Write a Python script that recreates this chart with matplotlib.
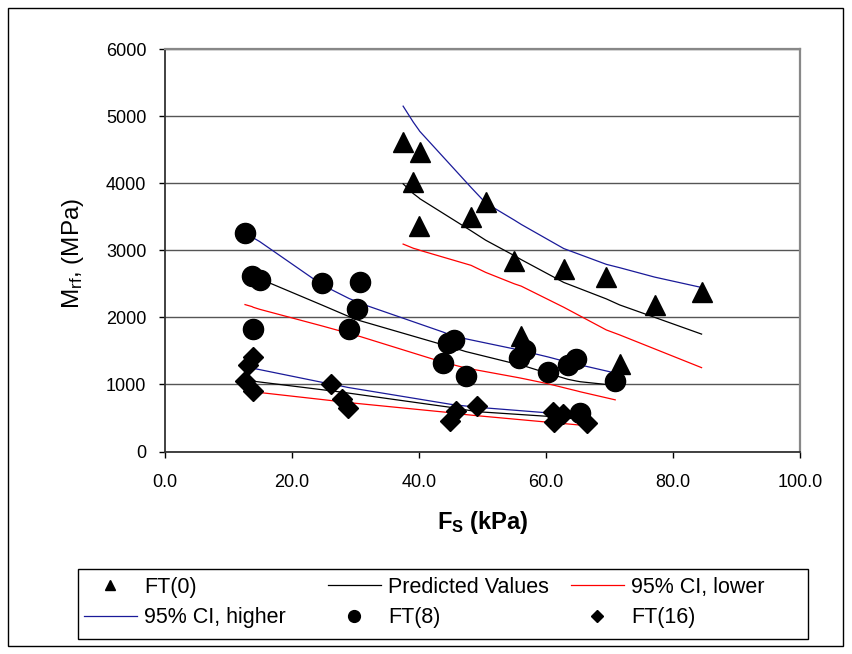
import matplotlib
matplotlib.use('Agg')
import matplotlib.pyplot as plt
from matplotlib.lines import Line2D
from matplotlib.patches import Rectangle

plt.rcParams['font.family'] = ['Liberation Sans', 'DejaVu Sans']
plt.rcParams['mathtext.default'] = 'regular'

# markers
ft0_x = [37.5, 40.1, 39.1, 40.0, 50.5, 48.2, 55.0, 62.8, 56.1, 69.5, 84.5, 77.1, 71.6]
ft0_y = [4620, 4460, 4010, 3360, 3725, 3490, 2845, 2725, 1720, 2600, 2375, 2190, 1310]

ft8_x = [12.6, 13.7, 14.9, 24.8, 30.7, 30.3, 29.0, 13.9, 44.6, 45.5, 43.8, 47.35,
         55.7, 56.75, 60.3, 63.5, 64.8, 70.9, 65.4]
ft8_y = [3250, 2615, 2550, 2505, 2525, 2120, 1830, 1830, 1615, 1665, 1315, 1125,
         1390, 1515, 1180, 1290, 1375, 1055, 575]

ft16_x = [13.9, 13.1, 12.55, 13.9, 26.1, 27.8, 28.8, 45.8, 44.9, 49.1, 61.1, 62.6, 61.2, 66.4]
ft16_y = [1405, 1290, 1045, 900, 1000, 790, 645, 605, 455, 685, 585, 560, 445, 425]

# predicted values and 95% CI, one set per group
line0_x = [37.5, 39.1, 40.0, 40.1, 48.2, 50.5, 55.0, 56.1, 62.8, 69.5, 71.6, 77.1, 84.5]
pred0 = [3990, 3845, 3780, 3770, 3290, 3150, 2920, 2860, 2520, 2275, 2185, 2000, 1750]
low0 = [3092, 3030, 3005, 3000, 2775, 2670, 2500, 2465, 2150, 1812, 1738, 1530, 1250]
high0 = [5148, 4910, 4790, 4775, 3936, 3705, 3450, 3385, 3025, 2790, 2740, 2600, 2445]

line8_x = [12.6, 13.7, 13.9, 14.9, 24.8, 29.0, 30.3, 30.7, 43.8, 44.6, 45.5, 47.35,
           55.7, 56.75, 60.3, 63.5, 64.8, 65.4, 70.9]
pred8 = [2670, 2625, 2615, 2575, 2180, 2010, 1965, 1950, 1590, 1565, 1545, 1490,
         1295, 1270, 1165, 1075, 1050, 1040, 985]
low8 = [2190, 2160, 2150, 2120, 1870, 1760, 1725, 1715, 1330, 1310, 1290, 1245,
        1100, 1080, 1010, 935, 905, 890, 770]
high8 = [3260, 3200, 3185, 3130, 2480, 2280, 2230, 2210, 1780, 1750, 1730, 1680,
         1515, 1490, 1410, 1330, 1300, 1290, 1170]

line16_x = [12.55, 13.1, 13.9, 26.1, 27.8, 28.8, 44.9, 45.8, 49.1, 61.1, 61.2, 62.6, 66.4]
pred16 = [1065, 1058, 1048, 905, 885, 872, 659, 645, 594, 519, 518, 505, 470]
low16 = [900, 895, 890, 760, 740, 730, 579, 565, 534, 430, 429, 418, 385]
high16 = [1260, 1250, 1240, 1005, 975, 955, 705, 694, 660, 570, 569, 558, 525]

x_ticks = [0, 20, 40, 60, 80, 100]
y_ticks = [0, 1000, 2000, 3000, 4000, 5000, 6000]

blue = '#1a1a99'
W, H = 852, 654

fig = plt.figure(figsize=(W / 100, H / 100), dpi=100)
ax = fig.add_axes([165 / W, 1 - 451.5 / H, 635 / W, 402.5 / H])

for lx, p, lo, hi in [(line0_x, pred0, low0, high0),
                      (line8_x, pred8, low8, high8),
                      (line16_x, pred16, low16, high16)]:
    ax.plot(lx, p, color='black', lw=0.9, zorder=2)
    ax.plot(lx, lo, color='red', lw=0.9, zorder=2)
    ax.plot(lx, hi, color=blue, lw=0.9, zorder=2)

ax.plot(ft0_x, ft0_y, '^', color='black', ms=14.5, zorder=3)
ax.plot(ft8_x, ft8_y, 'o', color='black', ms=14.5, zorder=3)
ax.plot(ft16_x, ft16_y, 'D', color='black', ms=10.5, zorder=3)

ax.set_xlim(0, 100)
ax.set_ylim(0, 6000)
ax.set_xticks(x_ticks)
ax.set_xticklabels(['%.1f' % v for v in x_ticks])
ax.set_yticks(y_ticks)
ax.tick_params(direction='out', length=4.5, width=1, labelsize=13)
ax.tick_params(axis='x', pad=11.5)
ax.tick_params(axis='y', pad=9)
ax.yaxis.grid(True, color='#555555', lw=1)
ax.set_axisbelow(True)
for s in ['top', 'right']:
    ax.spines[s].set_color('#888888')
    ax.spines[s].set_linewidth(1.6)
for s in ['left', 'bottom']:
    ax.spines[s].set_color('#333333')
    ax.spines[s].set_linewidth(1.3)

xl = ax.set_xlabel('F$_S$ (kPa)', fontsize=17, fontweight='bold')
ax.xaxis.set_label_coords(482.5 / W, 1 - 529 / H, transform=fig.transFigure)
xl.set_va('baseline')
yl = ax.set_ylabel('M$_{rf}$, (MPa)', fontsize=17.5)
ax.yaxis.set_label_coords(72.5 / W, 1 - 253 / H, transform=fig.transFigure)
yl.set_va('center')

# legend: three columns laid out like the original, one box round them
h_ft0 = Line2D([], [], ls='none', marker='^', color='black', ms=7.5)
h_pred = Line2D([], [], color='black', lw=0.9)
h_low = Line2D([], [], color='red', lw=0.9)
h_high = Line2D([], [], color=blue, lw=0.9)
h_ft8 = Line2D([], [], ls='none', marker='o', color='black', ms=8.5)
h_ft16 = Line2D([], [], ls='none', marker='D', color='black', ms=6.5)
columns = [([h_ft0, h_high], ['FT(0)', '95% CI, higher'], 84),
           ([h_pred, h_ft8], ['Predicted Values', 'FT(8)'], 328),
           ([h_low, h_ft16], ['95% CI, lower', 'FT(16)'], 571)]
for hs, ls, x0 in columns:
    fig.legend(hs, ls, loc='upper left', bbox_to_anchor=(x0 / W, 1 - 577 / H),
               frameon=False, fontsize=15.5, borderpad=0, borderaxespad=0,
               handlelength=2.46, handletextpad=0.33, labelspacing=0.42)

fig.patches.append(Rectangle((78 / W, 1 - 639 / H), 730 / W, 70 / H,
                             transform=fig.transFigure, fill=False,
                             edgecolor='black', lw=1))
fig.patches.append(Rectangle((8 / W, 8 / H), 835 / W, 638 / H,
                             transform=fig.transFigure, fill=False,
                             edgecolor='black', lw=1))

fig.savefig('out.png', dpi=100)
